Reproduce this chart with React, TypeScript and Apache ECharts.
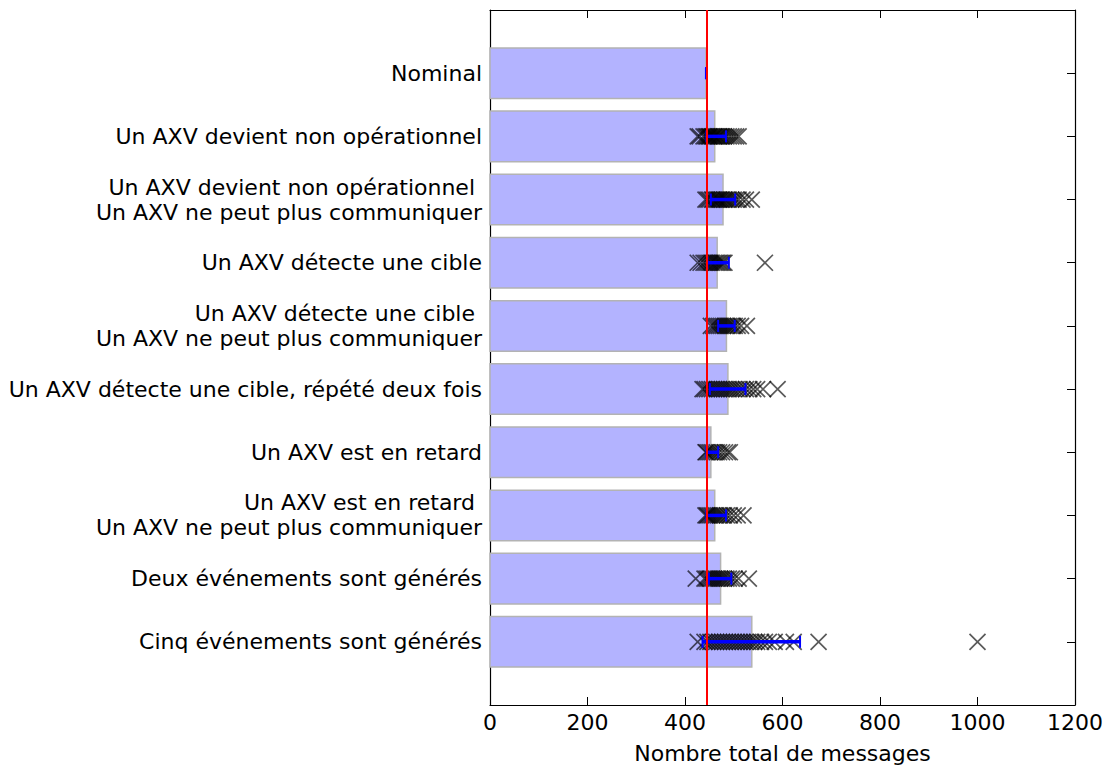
import React, { useEffect, useRef } from "react";
import * as echarts from "echarts";

const categories = [
  "Nominal",
  "Un AXV devient non opérationnel",
  "Un AXV devient non opérationnel\u00a0\nUn AXV ne peut plus communiquer",
  "Un AXV détecte une cible",
  "Un AXV détecte une cible\u00a0\nUn AXV ne peut plus communiquer",
  "Un AXV détecte une cible, répété deux fois",
  "Un AXV est en retard",
  "Un AXV est en retard\u00a0\nUn AXV ne peut plus communiquer",
  "Deux événements sont générés",
  "Cinq événements sont générés",
];

// mean number of messages (bar length)
const meanValues = [443, 461, 478, 466, 485, 488, 453, 461, 473, 537];
// error bar extents
const errLow = [443, 444, 453, 446, 468, 451, 444, 444, 449, 436];
const errHigh = [443, 484, 503, 490, 502, 524, 468, 484, 495, 636];

// reference (nominal) line
const referenceValue = 445;

// individual runs
const runsNominal: number[] = [];
const runsNonOp = [426, 430, 438, 442, 445, 448, 450, 452, 455, 458, 460, 462, 465, 468, 470, 473, 476, 480, 485, 490, 495, 500, 505, 510];
const runsNonOpComm = [442, 446, 450, 455, 458, 462, 465, 468, 470, 473, 476, 480, 483, 486, 490, 495, 500, 505, 510, 518, 525, 537];
const runsCible = [426, 432, 438, 442, 446, 450, 453, 456, 460, 463, 466, 469, 472, 475, 478, 481, 564];
const runsCibleComm = [453, 458, 462, 466, 470, 474, 478, 482, 486, 490, 494, 498, 502, 508, 515, 527];
const runsCibleDeux = [436, 440, 445, 450, 455, 460, 465, 470, 475, 480, 485, 490, 495, 500, 506, 512, 518, 525, 532, 540, 548, 560, 590];
const runsRetard = [442, 444, 448, 452, 456, 460, 465, 470, 476, 482, 488, 492];
const runsRetardComm = [442, 445, 448, 452, 456, 460, 464, 468, 472, 476, 480, 486, 492, 500, 508, 520];
const runsDeux = [422, 440, 444, 448, 452, 456, 460, 464, 468, 472, 476, 480, 485, 490, 496, 502, 510, 531];
const runsCinq = [426, 440, 446, 452, 458, 464, 470, 476, 482, 488, 494, 500, 506, 512, 518, 524, 530, 536, 542, 548, 556, 564, 572, 584, 607, 623, 674, 1000];

const allRuns = [
  runsNominal, runsNonOp, runsNonOpComm, runsCible, runsCibleComm,
  runsCibleDeux, runsRetard, runsRetardComm, runsDeux, runsCinq,
];

const xTicks = [0, 200, 400, 600, 800, 1000, 1200];
const rowIndices = categories.map((_, i) => i);

const FONT = "'DejaVu Sans', 'Liberation Sans', sans-serif";

export default function App() {
  const ref = useRef<HTMLDivElement>(null);

  useEffect(() => {
    if (!ref.current) return;
    const chart = echarts.init(ref.current, null, { renderer: "svg" });

    const barData = meanValues.map((v, i) => [v, i]);
    const errData = errLow.map((lo, i) => [lo, errHigh[i], i]);
    const scatterData: number[][] = [];
    allRuns.forEach((row, i) => row.forEach((v) => scatterData.push([v, i])));

    const yMin = -1;
    const yMax = 10;

    const frameLine = { show: true, onZero: false, lineStyle: { color: "#000", width: 1.2 } };
    const tick = { show: true, inside: true, length: 8, lineStyle: { color: "#000", width: 1 } };

    const option: any = {
      animation: false,
      textStyle: { fontFamily: FONT },
      grid: { left: 490, right: 29, top: 10, bottom: 60, containLabel: false, outerBoundsMode: "none" },
      xAxis: [
        {
          type: "value",
          min: xTicks[0],
          max: xTicks[xTicks.length - 1],
          interval: 200,
          position: "bottom",
          name: "Nombre total de messages",
          nameLocation: "middle",
          nameGap: 37,
          nameTextStyle: { fontSize: 22, color: "#000", fontFamily: FONT },
          axisLine: frameLine,
          axisTick: tick,
          axisLabel: { fontSize: 22, color: "#000", margin: 6, fontFamily: FONT, formatter: (v: number) => String(v) },
          splitLine: { show: false },
        },
        {
          type: "value",
          min: xTicks[0],
          max: xTicks[xTicks.length - 1],
          interval: 200,
          position: "top",
          axisLine: frameLine,
          axisTick: tick,
          axisLabel: { show: false },
          splitLine: { show: false },
        },
      ],
      yAxis: [
        {
          type: "value",
          inverse: true,
          min: yMin,
          max: yMax,
          position: "left",
          axisLine: frameLine,
          axisTick: { ...tick, customValues: rowIndices },
          axisLabel: {
            customValues: rowIndices,
            formatter: (v: number) => categories[Math.round(v)] ?? "",
            fontSize: 22,
            lineHeight: 25,
            color: "#000",
            margin: 8,
            align: "right",
            fontFamily: FONT,
          },
          splitLine: { show: false },
        },
        {
          type: "value",
          inverse: true,
          min: yMin,
          max: yMax,
          position: "right",
          axisLine: frameLine,
          axisTick: { ...tick, customValues: rowIndices },
          axisLabel: { show: false },
          splitLine: { show: false },
        },
      ],
      series: [
        {
          type: "custom",
          name: "bars",
          xAxisIndex: 0,
          yAxisIndex: 0,
          z: 1,
          data: barData,
          encode: { x: 0, y: 1 },
          renderItem: (params: any, api: any) => {
            const v = api.value(0);
            const y = api.value(1);
            const start = api.coord([0, y]);
            const end = api.coord([v, y]);
            const h = Math.abs(api.size([0, 0.8])[1]);
            return {
              type: "rect",
              shape: { x: start[0], y: start[1] - h / 2, width: end[0] - start[0], height: h },
              style: { fill: "#b3b3ff", stroke: "#b3b3b3", lineWidth: 1.5 },
            };
          },
        },
        {
          type: "scatter",
          name: "runs",
          xAxisIndex: 0,
          yAxisIndex: 0,
          z: 2,
          data: scatterData,
          symbol: "path://M0,0L10,10M10,0L0,10",
          symbolSize: 16,
          itemStyle: { color: "rgba(0,0,0,0)", borderColor: "#000", borderWidth: 1.7, opacity: 0.65 },
        },
        {
          type: "custom",
          name: "errors",
          xAxisIndex: 0,
          yAxisIndex: 0,
          z: 3,
          data: errData,
          encode: { x: [0, 1], y: 2 },
          renderItem: (params: any, api: any) => {
            const lo = api.value(0);
            const hi = api.value(1);
            const y = api.value(2);
            const a = api.coord([lo, y]);
            const b = api.coord([hi, y]);
            const cap = 6;
            const st = { stroke: "#0000ff", lineWidth: 3.5 };
            const cst = { stroke: "#0000ff", lineWidth: 2 };
            return {
              type: "group",
              children: [
                { type: "line", shape: { x1: a[0], y1: a[1], x2: b[0], y2: b[1] }, style: st },
                { type: "line", shape: { x1: a[0], y1: a[1] - cap, x2: a[0], y2: a[1] + cap }, style: cst },
                { type: "line", shape: { x1: b[0], y1: b[1] - cap, x2: b[0], y2: b[1] + cap }, style: cst },
              ],
            };
          },
          markLine: {
            silent: true,
            symbol: ["none", "none"],
            label: { show: false },
            lineStyle: { color: "#ff0000", width: 2, type: "solid" },
            data: [{ xAxis: referenceValue }],
          },
        },
      ],
    };

    chart.setOption(option);
    return () => chart.dispose();
  }, []);

  return (
    <div
      ref={ref}
      style={{ position: "absolute", left: 0, top: 0, width: 1104, height: 765, background: "#fff" }}
    />
  );
}
